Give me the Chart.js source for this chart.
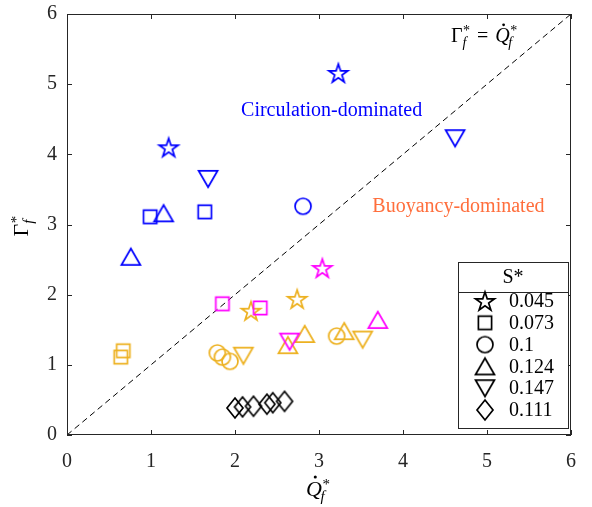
<!DOCTYPE html>
<html>
<head>
<meta charset="utf-8">
<script src="https://cdn.jsdelivr.net/npm/chart.js@4/dist/chart.umd.min.js"></script>
<style>
  html, body { margin: 0; padding: 0; background: #fff; }
  #wrap { width: 592px; height: 507px; }
</style>
</head>
<body>
<div id="wrap"><canvas id="c" width="592" height="507"></canvas></div>
<script>
// ---- data: Q_f* (x) and Gamma_f* (y), grouped by regime colour and S* marker ----
const sLabels = ['0.045', '0.073', '0.1', '0.124', '0.147', '0.111'];
const sShapes = ['star', 'square', 'circle', 'triangle', 'triangleDown', 'diamond'];
const axisTicks = [0, 1, 2, 3, 4, 5, 6];

// circulation-dominated runs (blue)
const blueStarQ = [1.21, 3.23];             const blueStarG = [4.10, 5.16];
const blueSquareQ = [0.99, 1.64];           const blueSquareG = [3.11, 3.18];
const blueCircleQ = [2.81];                 const blueCircleG = [3.26];
const blueTriQ = [0.76, 1.15];              const blueTriG = [2.54, 3.16];
const blueTriDownQ = [1.68, 4.62];          const blueTriDownG = [3.65, 4.23];

// magenta runs
const magStarQ = [3.04];                    const magStarG = [2.38];
const magSquareQ = [1.85, 2.30];            const magSquareG = [1.87, 1.81];
const magTriQ = [3.70];                     const magTriG = [1.64];
const magTriDownQ = [2.65];                 const magTriDownG = [1.33];

// buoyancy-dominated runs (orange)
const orStarQ = [2.19, 2.74];               const orStarG = [1.77, 1.94];
const orSquareQ = [0.67, 0.64];             const orSquareG = [1.20, 1.11];
const orCircleQ = [1.79, 1.85, 1.94, 3.21]; const orCircleG = [1.17, 1.11, 1.05, 1.41];
const orTriQ = [2.63, 2.83, 3.30];          const orTriG = [1.28, 1.44, 1.48];
const orTriDownQ = [2.10, 3.52];            const orTriDownG = [1.13, 1.36];

// S* = 0.111 runs (black diamonds)
const diamondQ = [2.00, 2.09, 2.22, 2.38, 2.45, 2.59];
const diamondG = [0.385, 0.40, 0.41, 0.44, 0.46, 0.48];

// reference line Gamma_f* = Q_f*
const unityLine = [0, 6];

const BLUE = '#0000ff', MAGENTA = '#ff00ff', ORANGE = '#edb120', BLACK = '#000000';
const FONT = '"Liberation Serif", "DejaVu Serif", serif';
const AXIS_COLOR = '#262626';

// ---- marker images (outlined, MATLAB style) ----
function makeMarker(shape, color) {
  const S = 28, c = S / 2, lw = 1.7;
  const cv = document.createElement('canvas');
  cv.width = S; cv.height = S;
  const g = cv.getContext('2d');
  g.strokeStyle = color; g.lineWidth = lw; g.lineJoin = 'miter';
  g.beginPath();
  if (shape === 'star') {
    const R = 10, r = R * 0.382, cy = c + 0.9;
    for (let i = 0; i < 10; i++) {
      const rad = (i % 2 === 0) ? R : r;
      const a = -Math.PI / 2 + i * Math.PI / 5;
      const px = c + rad * Math.cos(a), py = cy + rad * Math.sin(a);
      i === 0 ? g.moveTo(px, py) : g.lineTo(px, py);
    }
    g.closePath();
  } else if (shape === 'square') {
    const h = 6.6;
    g.rect(c - h, c - h, 2 * h, 2 * h);
  } else if (shape === 'circle') {
    g.arc(c, c, 8, 0, Math.PI * 2);
  } else if (shape === 'triangle') {
    const hw = 9.5, hh = 8.2;
    g.moveTo(c, c - hh); g.lineTo(c + hw, c + hh); g.lineTo(c - hw, c + hh); g.closePath();
  } else if (shape === 'triangleDown') {
    const hw = 9.5, hh = 8.2;
    g.moveTo(c, c + hh); g.lineTo(c + hw, c - hh); g.lineTo(c - hw, c - hh); g.closePath();
  } else if (shape === 'diamond') {
    const hw = 8, hh = 10;
    g.moveTo(c, c - hh); g.lineTo(c + hw, c); g.lineTo(c, c + hh); g.lineTo(c - hw, c); g.closePath();
  }
  g.stroke();
  return cv;
}

function pts(xs, ys) { return xs.map((x, i) => ({ x: x, y: ys[i] })); }
function markerSet(label, xs, ys, shape, color) {
  return {
    type: 'scatter', label: label, data: pts(xs, ys),
    pointStyle: makeMarker(shape, color), pointRadius: 10, pointHoverRadius: 10,
    borderColor: color, backgroundColor: 'transparent', showLine: false
  };
}

// first dataset is painted on top
const datasets = [
  markerSet('mag-tridown', magTriDownQ, magTriDownG, 'triangleDown', MAGENTA),
  markerSet('mag-tri', magTriQ, magTriG, 'triangle', MAGENTA),
  markerSet('mag-square', magSquareQ, magSquareG, 'square', MAGENTA),
  markerSet('mag-star', magStarQ, magStarG, 'star', MAGENTA),
  markerSet('blue-star', blueStarQ, blueStarG, 'star', BLUE),
  markerSet('blue-square', blueSquareQ, blueSquareG, 'square', BLUE),
  markerSet('blue-circle', blueCircleQ, blueCircleG, 'circle', BLUE),
  markerSet('blue-tri', blueTriQ, blueTriG, 'triangle', BLUE),
  markerSet('blue-tridown', blueTriDownQ, blueTriDownG, 'triangleDown', BLUE),
  markerSet('or-star', orStarQ, orStarG, 'star', ORANGE),
  markerSet('or-square', orSquareQ, orSquareG, 'square', ORANGE),
  markerSet('or-circle', orCircleQ, orCircleG, 'circle', ORANGE),
  markerSet('or-tri', orTriQ, orTriG, 'triangle', ORANGE),
  markerSet('or-tridown', orTriDownQ, orTriDownG, 'triangleDown', ORANGE),
  markerSet('diamond', diamondQ, diamondG, 'diamond', BLACK),
  {
    type: 'line', label: 'unity', data: pts(unityLine, unityLine),
    borderColor: BLACK, borderWidth: 1, borderDash: [6, 4], pointRadius: 0, fill: false
  }
];

// symbol with superscript * and subscript f, e.g. Γ*_f ; returns advance width
function drawScripted(ctx, x, y, main, italic, dot, size) {
  ctx.textBaseline = 'alphabetic';
  ctx.textAlign = 'left';
  ctx.font = (italic ? 'italic ' : '') + size + 'px ' + FONT;
  ctx.fillText(main, x, y);
  const w = ctx.measureText(main).width;
  if (dot) {
    ctx.beginPath();
    ctx.arc(x + w * 0.58, y - size * 0.86, size * 0.07, 0, Math.PI * 2);
    ctx.fill();
  }
  const s = Math.round(size * 0.7);
  ctx.font = s + 'px ' + FONT;
  ctx.fillText('*', x + w + 0.5, y - size * 0.34);
  const ws = ctx.measureText('*').width;
  ctx.font = 'italic ' + s + 'px ' + FONT;
  ctx.fillText('f', x + w - (italic ? 1.5 : 0), y + size * 0.24);
  const wf = ctx.measureText('f').width;
  return w + 0.5 + Math.max(ws, wf);
}

const decorPlugin = {
  id: 'decor',
  afterDatasetsDraw(chart) {
    const ctx = chart.ctx, ca = chart.chartArea;
    const xs = chart.scales.x, ys = chart.scales.y;
    ctx.save();

    // frame with inward ticks on all sides
    ctx.strokeStyle = AXIS_COLOR; ctx.lineWidth = 1;
    ctx.strokeRect(ca.left + 0.5, ca.top + 0.5, ca.right - ca.left - 1, ca.bottom - ca.top - 1);
    ctx.beginPath();
    axisTicks.forEach(v => {
      const px = Math.round(xs.getPixelForValue(v)) + 0.5;
      ctx.moveTo(px, ca.bottom); ctx.lineTo(px, ca.bottom - 5);
      ctx.moveTo(px, ca.top); ctx.lineTo(px, ca.top + 5);
      const py = Math.round(ys.getPixelForValue(v)) + 0.5;
      ctx.moveTo(ca.left, py); ctx.lineTo(ca.left + 5, py);
      ctx.moveTo(ca.right, py); ctx.lineTo(ca.right - 5, py);
    });
    ctx.stroke();

    // regime annotations
    ctx.textAlign = 'center'; ctx.textBaseline = 'middle';
    ctx.font = '20px ' + FONT;
    ctx.fillStyle = BLUE;
    ctx.fillText('Circulation-dominated', xs.getPixelForValue(3.15), ys.getPixelForValue(4.62));
    ctx.fillStyle = '#ff6e3c';
    ctx.fillText('Buoyancy-dominated', xs.getPixelForValue(4.66), ys.getPixelForValue(3.26));

    // unity-line label
    ctx.fillStyle = BLACK;
    let ex = xs.getPixelForValue(4.57), ey = ys.getPixelForValue(5.6);
    ex += drawScripted(ctx, ex, ey, 'Γ', false, false, 20) + 7;
    ctx.font = '20px ' + FONT; ctx.textAlign = 'left'; ctx.textBaseline = 'alphabetic';
    ctx.fillText('=', ex, ey);
    ex += ctx.measureText('=').width + 7;
    drawScripted(ctx, ex, ey, 'Q', true, true, 20);

    // S* legend box
    const x0 = ca.right - 113, x1 = ca.right - 3, y0 = ca.bottom - 173, y1 = ca.bottom - 7;
    ctx.fillStyle = '#fff';
    ctx.fillRect(x0, y0, x1 - x0, y1 - y0);
    ctx.strokeStyle = AXIS_COLOR; ctx.lineWidth = 1;
    ctx.strokeRect(x0 + 0.5, y0 + 0.5, x1 - x0, y1 - y0);
    ctx.beginPath(); ctx.moveTo(x0, y0 + 30.5); ctx.lineTo(x1, y0 + 30.5); ctx.stroke();
    ctx.fillStyle = BLACK;
    ctx.font = '20px ' + FONT; ctx.textAlign = 'center'; ctx.textBaseline = 'middle';
    ctx.fillText('S*', (x0 + x1) / 2, y0 + 16);
    ctx.font = '20px ' + FONT; ctx.textAlign = 'left';
    sLabels.forEach((lab, i) => {
      const yy = y0 + 39 + i * 21.8;
      const m = makeMarker(sShapes[i], BLACK);
      ctx.drawImage(m, x0 + 27 - m.width / 2, yy - m.height / 2);
      ctx.fillText(lab, x0 + 51, yy + 1);
    });

    // axis titles
    ctx.fillStyle = BLACK;
    ctx.font = 'italic 22px ' + FONT;
    const qw = ctx.measureText('Q').width + 10;
    drawScripted(ctx, (ca.left + ca.right) / 2 - qw / 2, 496, 'Q', true, true, 22);

    ctx.translate(28, (ca.top + ca.bottom) / 2 + 12);
    ctx.rotate(-Math.PI / 2);
    drawScripted(ctx, 0, 0, 'Γ', false, false, 22);
    ctx.restore();
  }
};

new Chart(document.getElementById('c'), {
  data: { datasets: datasets },
  options: {
    responsive: false,
    animation: false,
    layout: { padding: { top: 14, right: 21, left: 0, bottom: 0 } },
    plugins: { legend: { display: false }, tooltip: { enabled: false } },
    scales: {
      x: {
        type: 'linear', min: 0, max: 6,
        ticks: { stepSize: 1, color: AXIS_COLOR, font: { family: FONT, size: 20 }, padding: 15, maxRotation: 0 },
        grid: { display: false, drawTicks: false },
        border: { display: false },
        afterFit(s) { s.height = 72; s.paddingLeft = 0; s.paddingRight = 0; }
      },
      y: {
        type: 'linear', min: 0, max: 6,
        ticks: { stepSize: 1, color: AXIS_COLOR, font: { family: FONT, size: 20 }, padding: 10 },
        grid: { display: false, drawTicks: false },
        border: { display: false },
        afterFit(s) { s.width = 67; s.paddingTop = 0; s.paddingBottom = 0; }
      }
    }
  },
  plugins: [decorPlugin]
});
</script>
</body>
</html>
